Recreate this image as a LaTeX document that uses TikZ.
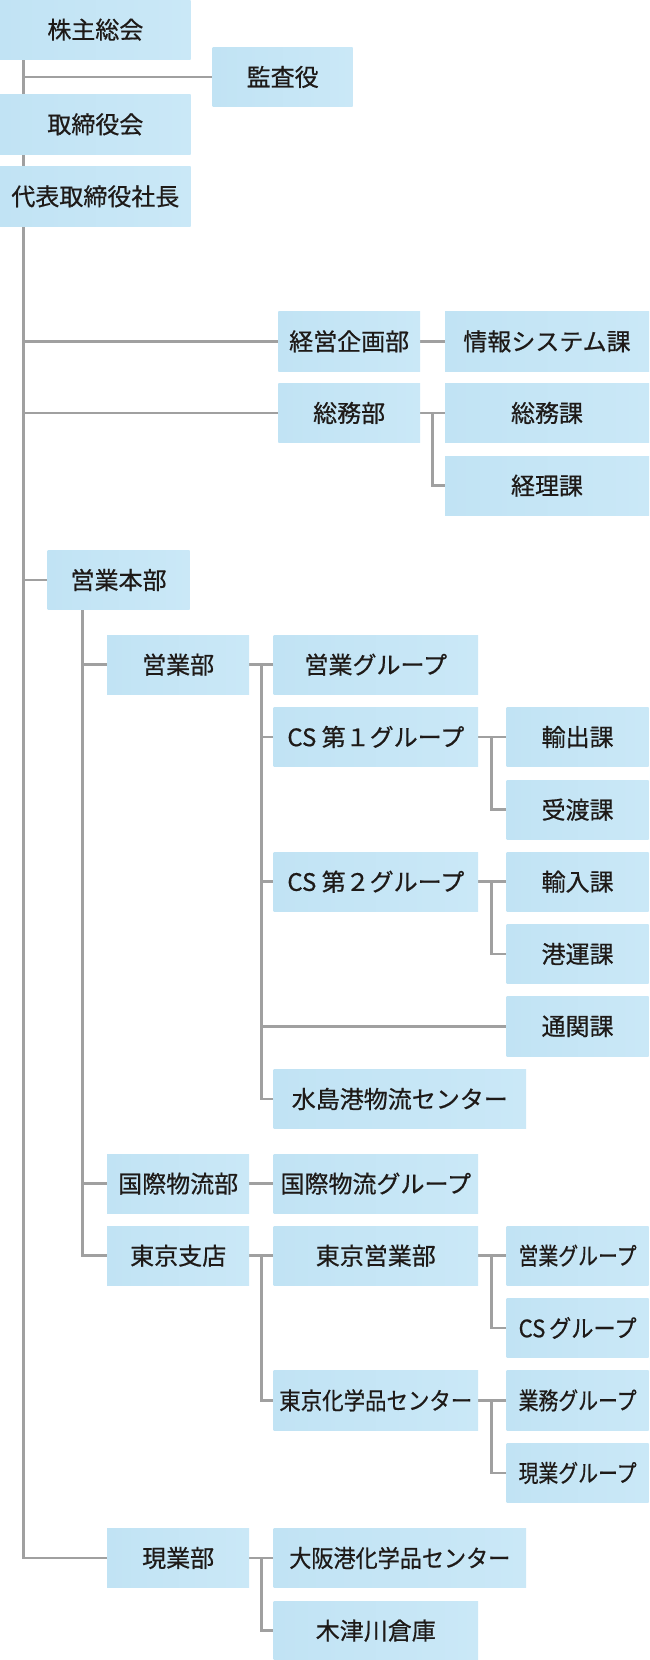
\documentclass[tikz,border=0pt]{standalone}
\usepackage{fontspec}
\usepackage{graphicx}
\setmainfont{Noto Sans CJK JP}[FakeBold=0.6,AutoFakeBold=0.6]
\usetikzlibrary{backgrounds}
\definecolor{boxl}{HTML}{C1E3F4}
\definecolor{boxr}{HTML}{CAE8F7}
\definecolor{txt}{HTML}{1E1A18}
\definecolor{lnc}{HTML}{A0A0A0}
\newcommand\fitw[2]{\resizebox{#1}{\height}{#2}}
\tikzset{
  orgbox/.style={left color=boxl, right color=boxr, draw=none, inner sep=0pt, outer sep=0pt,
    minimum height=59.3pt, anchor=north west, text=txt,
    font=\fontsize{24pt}{28pt}\selectfont\bfseries},
  wA/.style={minimum width=190.7pt},
  wM/.style={minimum width=142pt},
  wL/.style={minimum width=204.4pt},
  wX/.style={minimum width=252.4pt},
  ln/.style={draw=lnc, line width=2.7pt}
}
\begin{document}
\begin{tikzpicture}[x=1pt,y=-1pt]
\useasboundingbox (0,0) rectangle (649,1660);
% top
\node[orgbox,wA] (kabu) at (0,0) {株主総会};
\node[orgbox,minimum width=140pt] (kansa) at (212.7,47.3) {監査役};
\node[orgbox,wA] (tori) at (0,94.7) {取締役会};
\node[orgbox,wA] (daihyo) at (0,166.7) {代表取締役社長};
% keiei / soumu
\node[orgbox,minimum width=141.7pt] (keiei) at (278.3,311.7) {経営企画部};
\node[orgbox,minimum width=204pt] (joho) at (445,311.7) {情報システム課};
\node[orgbox,minimum width=141.7pt] (soumu) at (278.3,383.3) {総務部};
\node[orgbox,minimum width=204pt] (soumuka) at (445,383.3) {総務課};
\node[orgbox,minimum width=204pt] (keiri) at (445,456) {経理課};
% eigyo honbu
\node[orgbox,wM] (honbu) at (47.6,550.3) {営業本部};
\node[orgbox,wM] (eigyobu) at (107.2,635) {営業部};
\node[orgbox,wL] (eg) at (273.6,635) {営業グループ};
\node[orgbox,wL] (cs1) at (273.6,707.3) {CS 第１グループ};
\node[orgbox,wM] (yushutsu) at (506.6,707.3) {輸出課};
\node[orgbox,wM] (ukewata) at (506.6,780) {受渡課};
\node[orgbox,wL] (cs2) at (273.6,852) {CS 第２グループ};
\node[orgbox,wM] (yunyu) at (506.6,852) {輸入課};
\node[orgbox,wM] (koun) at (506.6,924.3) {港運課};
\node[orgbox,wM] (tsukan) at (506.6,996.7) {通関課};
\node[orgbox,wX] (mizu) at (273.6,1069.3) {水島港物流センター};
\node[orgbox,wM] (kokusai) at (107.2,1154) {国際物流部};
\node[orgbox,wL] (kokusaig) at (273.6,1154) {国際物流グループ};
\node[orgbox,wM] (tokyo) at (107.2,1226) {東京支店};
\node[orgbox,wL] (tokyoeig) at (273.6,1226) {東京営業部};
\node[orgbox,wM] (eg2) at (506.6,1226) {\fitw{118pt}{営業グループ}};
\node[orgbox,wM] (csg) at (506.6,1298.3) {\fitw{118pt}{CS\,グループ}};
\node[orgbox,wL] (tkagaku) at (273.6,1370.7) {\fitw{193pt}{東京化学品センター}};
\node[orgbox,wM] (gyomu) at (506.6,1370.7) {\fitw{118pt}{業務グループ}};
\node[orgbox,wM] (genbag) at (506.6,1443.3) {\fitw{118pt}{現業グループ}};
% genbu
\node[orgbox,wM] (genbu) at (107.2,1528.3) {現業部};
\node[orgbox,wX] (osaka) at (273.6,1528.3) {\fitw{221pt}{大阪港化学品センター}};
\node[orgbox,wL] (kizu) at (273.6,1601) {木津川倉庫};
% helper columns
\coordinate (tx) at (23.5,0);
\coordinate (sx) at (82.8,0);
\coordinate (c1) at (432.7,0);
\coordinate (c2) at (261.6,0);
\coordinate (c3) at (491.3,0);
\begin{pgfonlayer}{background}
\draw[ln] (kabu.south -| tx) |- (genbu.west);
\draw[ln] (kansa.west -| tx) -- (kansa.west);
\draw[ln] (keiei.west -| tx) -- (keiei.west);
\draw[ln] (soumu.west -| tx) -- (soumu.west);
\draw[ln] (honbu.west -| tx) -- (honbu.west);
\draw[ln] (keiei.east) -- (joho.west);
\draw[ln] (soumu.east) -- (soumuka.west);
\draw[ln] (soumu.east -| c1) |- (keiri.west);
\draw[ln] (honbu.south -| sx) |- (tokyo.west);
\draw[ln] (eigyobu.west -| sx) -- (eigyobu.west);
\draw[ln] (kokusai.west -| sx) -- (kokusai.west);
\draw[ln] (eigyobu.east) -- (eg.west);
\draw[ln] (eigyobu.east -| c2) |- (mizu.west);
\draw[ln] (cs1.west -| c2) -- (cs1.west);
\draw[ln] (cs2.west -| c2) -- (cs2.west);
\draw[ln] (tsukan.west -| c2) -- (tsukan.west);
\draw[ln] (cs1.east) -- (yushutsu.west);
\draw[ln] (cs1.east -| c3) |- (ukewata.west);
\draw[ln] (cs2.east) -- (yunyu.west);
\draw[ln] (cs2.east -| c3) |- (koun.west);
\draw[ln] (kokusai.east) -- (kokusaig.west);
\draw[ln] (tokyo.east) -- (tokyoeig.west);
\draw[ln] (tokyo.east -| c2) |- (tkagaku.west);
\draw[ln] (tokyoeig.east) -- (eg2.west);
\draw[ln] (tokyoeig.east -| c3) |- (csg.west);
\draw[ln] (tkagaku.east) -- (gyomu.west);
\draw[ln] (tkagaku.east -| c3) |- (genbag.west);
\draw[ln] (genbu.east) -- (osaka.west);
\draw[ln] (genbu.east -| c2) |- (kizu.west);
\end{pgfonlayer}
\end{tikzpicture}
\end{document}
